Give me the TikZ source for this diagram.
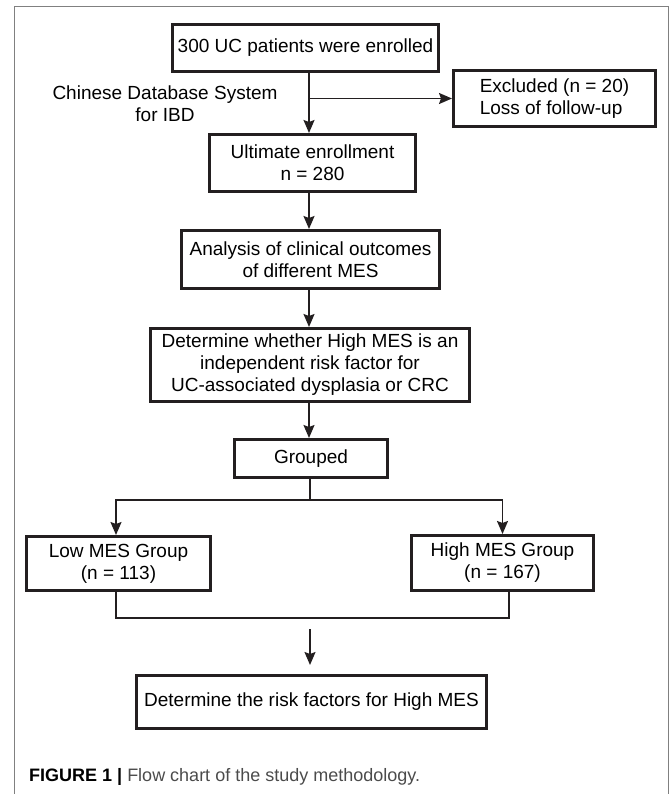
\documentclass[tikz,border=0pt]{standalone}
\usepackage{fontspec}
\setmainfont{Liberation Sans}
\usetikzlibrary{arrows.meta}
\definecolor{ink}{RGB}{35,31,32}
\definecolor{capgray}{RGB}{75,75,75}
\tikzstyle{bx}=[draw=ink, line width=3pt, align=center, inner sep=0, font=\fontsize{19}{22}\selectfont]
\tikzstyle{ln}=[draw=ink, line width=1.6pt]
\tikzstyle{ar}=[draw=ink, line width=1.6pt, -{Stealth[length=13pt, width=11pt, inset=2pt]}]

\begin{document}
\begin{tikzpicture}[x=1pt, y=-1pt]
\useasboundingbox (0,0) rectangle (669,794);
\draw[gray, line width=1pt] (14,794)--(14,7)--(668,7)--(668,794);
\coordinate (tr) at (309,0);
\node at (305.5,48)[bx, minimum width=266, minimum height=47](enrol){300 UC patients were enrolled};
\node at (165,104)[align=center, inner sep=0, font=\fontsize{19}{22}\selectfont](db){Chinese Database System\\for IBD};
\node at (554.5,98.5)[bx, align=left, minimum width=202, minimum height=56](excl){Excluded (n = 20)\\Loss of follow-up};
\node at (312.5,163)[bx, minimum width=206, minimum height=57](ult){Ultimate enrollment\\n = 280};
\node at (310.5,259.5)[bx, minimum width=258, minimum height=58](ana){Analysis of clinical outcomes\\of different MES};
\node at (310,365)[bx, minimum width=319, minimum height=73](det){Determine whether High MES is an\\independent risk factor for\\UC-associated dysplasia or CRC};
\node at (311,458.5)[bx, minimum width=153, minimum height=38](grp){Grouped};
\node at (118.5,563.5)[bx, minimum width=184, minimum height=54](low){Low MES Group\\(n = 113)};
\node at (502.5,563)[bx, minimum width=182, minimum height=55](high){High MES Group\\(n = 167)};
\node at (311.5,702)[bx, minimum width=350, minimum height=53](risk){Determine the risk factors for High MES};
\node at (29,781)[anchor=base west, inner sep=0, font=\fontsize{18}{22}\selectfont](cap){\textbf{FIGURE 1 |} \textcolor{capgray}{Flow chart of the study methodology.}};
\coordinate (sp) at (310,500);
\coordinate (mg) at (310,618);
\coordinate (gap) at (310,629);
\draw[ar] (enrol.south -| tr) -- (ult.north -| tr);
\draw[ar] (excl.west -| tr) -- (excl.west);
\draw[ar] (ult.south -| tr) -- (ana.north -| tr);
\draw[ar] (ana.south -| tr) -- (det.north -| tr);
\draw[ar] (det.south -| tr) -- (grp.north -| tr);
\draw[ln] (grp.south -| sp) -- (sp);
\draw[ar] (sp) -| ([xshift=-2.5pt]low.north);
\draw[ar] (sp) -| (high.north);
\draw[ln] ([xshift=-2.5pt]low.south) |- (mg) -| ([xshift=6.5pt]high.south);
\draw[ar] (gap) -- ([yshift=9pt]risk.north -| gap);
\end{tikzpicture}
\end{document}
